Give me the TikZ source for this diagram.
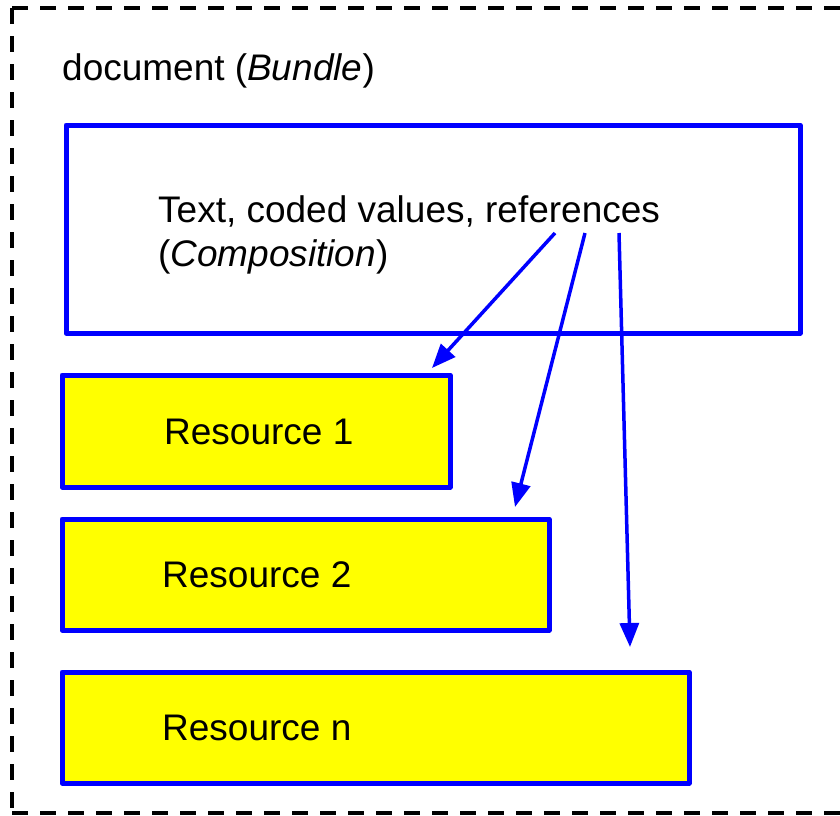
\documentclass[tikz,border=0pt]{standalone}
\usepackage{fontspec}
\setmainfont{Liberation Sans}
\usetikzlibrary{arrows.meta}
\definecolor{pblue}{RGB}{0,0,255}
\definecolor{pyellow}{RGB}{255,255,0}
\begin{document}
\begin{tikzpicture}[x=1pt,y=-1pt,
  box/.style={draw=pblue, line width=5pt, line join=round, inner sep=0pt, outer sep=0pt, anchor=north west},
  res/.style={box, fill=pyellow},
  lbl/.style={anchor=base west, inner sep=0pt, font=\fontsize{37}{44}\selectfont},
  ref/.style={draw=pblue, line width=3.5pt, -{Triangle[length=24pt,width=19pt]}},
  border/.style={line width=4pt, dash pattern=on 16pt off 12pt},
]
\useasboundingbox (0,0) rectangle (840,815);
\clip (0,0) rectangle (840,815);
% bundle border
\draw[border] (12,8) -- (870,8);
\draw[border] (12,8) -- (12,813);
\draw[border] (12,813) -- (870,813);
\node[lbl] (bundlelbl) at (62,80) {document (\textit{Bundle})};
% composition
\node[box, minimum width=734pt, minimum height=208pt] (comp) at (66,125) {};
\node[lbl] (comptext) at (158,222) {Text, coded values, references};
\node[lbl] (complbl) at (158,266) {(\textit{Composition})};
% resources
\node[res, minimum width=388pt, minimum height=112pt] (r1) at (62,375) {};
\node[res, minimum width=487pt, minimum height=111pt] (r2) at (62,519) {};
\node[res, minimum width=627pt, minimum height=111pt] (rn) at (62,672) {};
\node[lbl] (r1lbl) at (164,444) {Resource 1};
\node[lbl] (r2lbl) at (162,587) {Resource 2};
\node[lbl] (rnlbl) at (162,740) {Resource n};
% references
\coordinate (s1) at (555,233);
\coordinate (s2) at (585,233);
\coordinate (s3) at (619,233);
\coordinate (t1) at (432,368);
\coordinate (t2) at (515,507);
\coordinate (t3) at (630,647);
\draw[ref] (s1) -- (t1);
\draw[ref] (s2) -- (t2);
\draw[ref] (s3) -- (t3);
\end{tikzpicture}
\end{document}
